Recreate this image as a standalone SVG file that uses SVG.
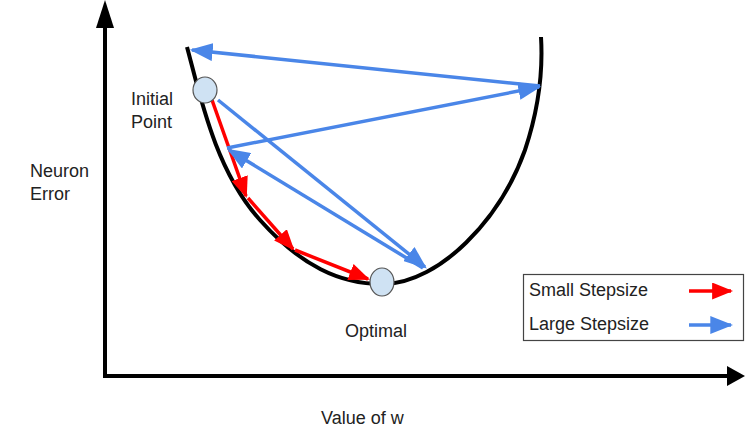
<svg xmlns="http://www.w3.org/2000/svg" width="745" height="432" viewBox="0 0 745 432">
<style>
text{font-family:"Liberation Sans",Arial,sans-serif;font-size:18px;fill:#222}
.blue{stroke:#4a86e8;stroke-width:3.5;fill:none}
.red{stroke:#ff0000;stroke-width:3.5;fill:none}
.node{fill:#cfe2f3;stroke:#555;stroke-width:1.2}
</style>
<defs>
<marker id="hb" viewBox="0 0 10 10" preserveAspectRatio="none" refX="9" refY="5" markerWidth="23" markerHeight="18" markerUnits="userSpaceOnUse" orient="auto"><path d="M0,0 L10,5 L0,10 z" fill="#4a86e8"/></marker>
<marker id="hr" viewBox="0 0 10 10" preserveAspectRatio="none" refX="9" refY="5" markerWidth="21" markerHeight="17" markerUnits="userSpaceOnUse" orient="auto"><path d="M0,0 L10,5 L0,10 z" fill="#ff0000"/></marker>
</defs>
<g id="axes">
<line x1="105" y1="378" x2="105" y2="24" stroke="#000" stroke-width="4"/>
<polygon points="105,0 96,28 114,28" fill="#000"/>
<line x1="103" y1="376" x2="728" y2="376" stroke="#000" stroke-width="4"/>
<polygon points="745,376 727,366 727,386" fill="#000"/>
</g>
<g id="curve">
<path d="M187,47 C200,95 215,170 260,220 C300,265 340,285 385,284 C440,282 500,220 525,150 C540,105 543,70 541,37" fill="none" stroke="#000" stroke-width="4"/>
</g>
<g id="connectors">
<line class="red" x1="212" y1="100" x2="246" y2="196" marker-end="url(#hr)"/>
<line class="red" x1="248" y1="198" x2="293" y2="249" marker-end="url(#hr)"/>
<line class="red" x1="295" y1="250" x2="368" y2="279" marker-end="url(#hr)"/>
<line class="blue" x1="540" y1="86" x2="192" y2="50" marker-end="url(#hb)"/>
<line class="blue" x1="227" y1="148" x2="539" y2="87" marker-end="url(#hb)"/>
<line class="blue" x1="218" y1="100" x2="425" y2="267" marker-end="url(#hb)"/>
<line class="blue" x1="423" y1="268" x2="229" y2="150" marker-end="url(#hb)"/>
</g>
<g id="initial">
<ellipse class="node" cx="205" cy="90" rx="12" ry="13"/>
<text x="131" y="105">Initial</text>
<text x="131" y="128">Point</text>
</g>
<g id="optimal">
<ellipse class="node" cx="382" cy="282" rx="12" ry="14"/>
<text x="345" y="337">Optimal</text>
</g>
<g id="ylabel">
<text x="30" y="177">Neuron</text>
<text x="30" y="200">Error</text>
</g>
<g id="xlabel">
<text x="321" y="424">Value of w</text>
</g>
<g id="legend">
<rect x="523.5" y="274.5" width="220" height="66" fill="#fff" stroke="#444" stroke-width="1.2"/>
<text x="529" y="296">Small Stepsize</text>
<text x="529" y="330">Large Stepsize</text>
<line class="red" x1="689" y1="291" x2="731" y2="291" marker-end="url(#hr)"/>
<line class="blue" x1="689" y1="325" x2="731" y2="325" marker-end="url(#hb)"/>
</g>
</svg>
